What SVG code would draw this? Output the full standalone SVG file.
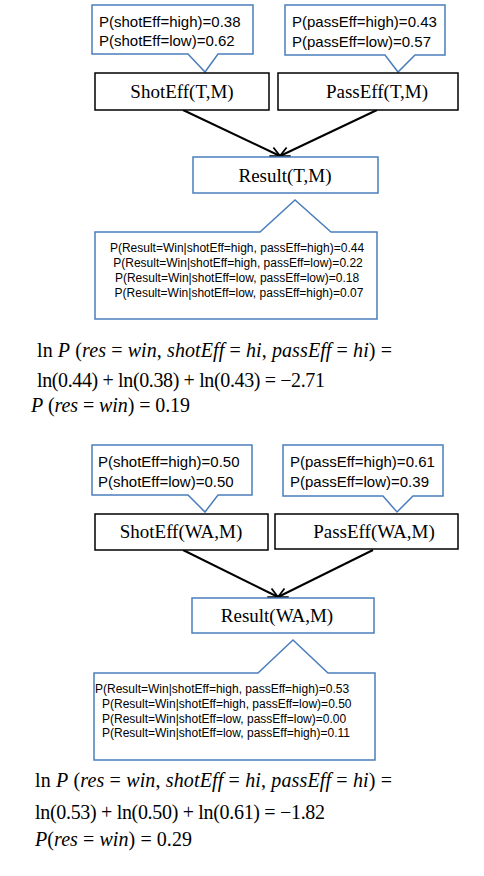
<svg xmlns="http://www.w3.org/2000/svg" width="484" height="876" viewBox="0 0 484 876">
<defs>
<style>
.call{fill:#fff;stroke:#4a7ebb;stroke-width:1.5;}
.box{fill:#fff;stroke:#000;stroke-width:1.5;}
.rbox{fill:#fff;stroke:#4a7ebb;stroke-width:1.5;}
.ct{font-family:"Liberation Sans",Arial,sans-serif;font-size:15px;fill:#000;}
.bt{font-family:"Liberation Sans",Arial,sans-serif;font-size:12px;fill:#000;}
.lbl{font-family:"Liberation Serif","Times New Roman",serif;font-size:19px;fill:#000;text-anchor:middle;}
.eq{font-family:"Liberation Serif","Times New Roman",serif;font-size:20px;fill:#000;}
.i{font-style:italic;}
.edge{stroke:#000;stroke-width:2;fill:none;marker-end:url(#arr);}
</style>
<marker id="arr" viewBox="0 0 10 10" refX="9" refY="5" markerWidth="6" markerHeight="6" orient="auto" markerUnits="strokeWidth">
<path d="M1,1 L9,5 L1,9" fill="none" stroke="#000" stroke-width="1.5"/>
</marker>
</defs>
<rect width="484" height="876" fill="#fff"/>

<g id="connectors">
<line class="edge" x1="183" y1="110" x2="280" y2="156"/>
<line class="edge" x1="377" y1="110" x2="280" y2="156"/>
<line class="edge" x1="183" y1="550" x2="278" y2="597"/>
<line class="edge" x1="373" y1="550" x2="278" y2="597"/>
</g>

<g id="callout-shot-T">
<path class="call" d="M92,5 H253 V54 H218 L205,72 L188,54 H92 Z"/>
<text class="ct" x="99" y="27">P(shotEff=high)=0.38</text>
<text class="ct" x="99" y="46">P(shotEff=low)=0.62</text>
</g>
<g id="callout-pass-T">
<path class="call" d="M285,5 H445 V55 H415 L398,72 L385,55 H285 Z"/>
<text class="ct" x="292" y="27">P(passEff=high)=0.43</text>
<text class="ct" x="292" y="47">P(passEff=low)=0.57</text>
</g>
<g id="node-shot-T">
<rect class="box" x="95" y="73" width="174" height="37"/>
<text class="lbl" x="182" y="98">ShotEff(T,M)</text>
</g>
<g id="node-pass-T">
<rect class="box" x="278" y="73" width="180" height="37"/>
<text class="lbl" x="377" y="98">PassEff(T,M)</text>
</g>
<g id="node-result-T">
<rect class="rbox" x="193" y="157" width="185" height="36"/>
<text class="lbl" x="285" y="182">Result(T,M)</text>
</g>
<g id="callout-result-T">
<path class="call" d="M95,232 H260 L295,200 L331,232 H377 V319 H95 Z"/>
<text class="bt" x="237" y="252" text-anchor="middle">P(Result=Win|shotEff=high, passEff=high)=0.44</text>
<text class="bt" x="238" y="267" text-anchor="middle">P(Result=Win|shotEff=high, passEff=low)=0.22</text>
<text class="bt" x="237" y="282" text-anchor="middle">P(Result=Win|shotEff=low, passEff=low)=0.18</text>
<text class="bt" x="239" y="297" text-anchor="middle">P(Result=Win|shotEff=low, passEff=high)=0.07</text>
</g>
<g id="equation-T">
<text class="eq" x="37" y="357" textLength="355">ln <tspan class="i">P</tspan> (<tspan class="i">res</tspan> = <tspan class="i">win</tspan>, <tspan class="i">shotEff</tspan> = <tspan class="i">hi</tspan>, <tspan class="i">passEff</tspan> = <tspan class="i">hi</tspan>) =</text>
<text class="eq" x="37" y="387" textLength="288">ln(0.44) + ln(0.38) + ln(0.43) = −2.71</text>
<text class="eq" x="31" y="412" textLength="159"><tspan class="i">P</tspan> (<tspan class="i">res</tspan> = <tspan class="i">win</tspan>) = 0.19</text>
</g>

<g id="callout-shot-WA">
<path class="call" d="M92,445 H252 V495 H218 L205,512 L188,495 H92 Z"/>
<text class="ct" x="98" y="467">P(shotEff=high)=0.50</text>
<text class="ct" x="98" y="487">P(shotEff=low)=0.50</text>
</g>
<g id="callout-pass-WA">
<path class="call" d="M283,445 H443 V496 H413 L397,512 L383,496 H283 Z"/>
<text class="ct" x="290" y="467">P(passEff=high)=0.61</text>
<text class="ct" x="290" y="487">P(passEff=low)=0.39</text>
</g>
<g id="node-shot-WA">
<rect class="box" x="95" y="514" width="173" height="36"/>
<text class="lbl" x="181" y="538">ShotEff(WA,M)</text>
</g>
<g id="node-pass-WA">
<rect class="box" x="275" y="514" width="183" height="35"/>
<text class="lbl" x="374" y="538">PassEff(WA,M)</text>
</g>
<g id="node-result-WA">
<rect class="rbox" x="192" y="598" width="182" height="35"/>
<text class="lbl" x="277" y="622">Result(WA,M)</text>
</g>
<g id="callout-result-WA">
<path class="call" d="M94,673 H258 L293,640 L328,673 H375 V760 H94 Z"/>
<text class="bt" x="95" y="693">P(Result=Win|shotEff=high, passEff=high)=0.53</text>
<text class="bt" x="102" y="708">P(Result=Win|shotEff=high, passEff=low)=0.50</text>
<text class="bt" x="102" y="723">P(Result=Win|shotEff=low, passEff=low)=0.00</text>
<text class="bt" x="102" y="737">P(Result=Win|shotEff=low, passEff=high)=0.11</text>
</g>
<g id="equation-WA">
<text class="eq" x="35" y="787" textLength="357">ln <tspan class="i">P</tspan> (<tspan class="i">res</tspan> = <tspan class="i">win</tspan>, <tspan class="i">shotEff</tspan> = <tspan class="i">hi</tspan>, <tspan class="i">passEff</tspan> = <tspan class="i">hi</tspan>) =</text>
<text class="eq" x="35" y="819" textLength="290">ln(0.53) + ln(0.50) + ln(0.61) = −1.82</text>
<text class="eq" x="35" y="846" textLength="157"><tspan class="i">P</tspan>(<tspan class="i">res</tspan> = <tspan class="i">win</tspan>) = 0.29</text>
</g>
</svg>
